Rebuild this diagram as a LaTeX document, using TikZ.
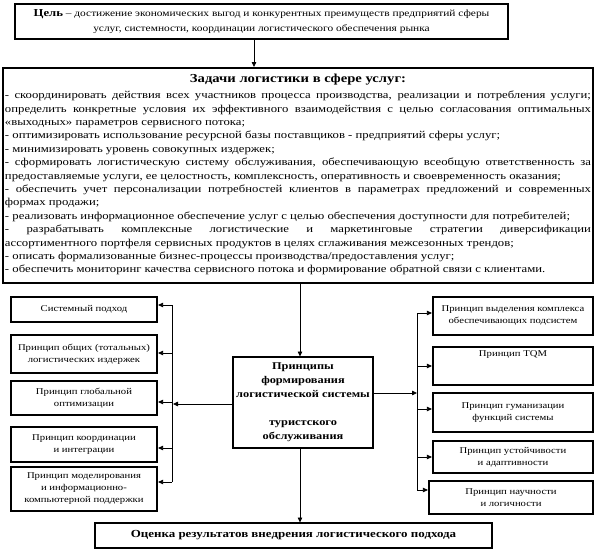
\documentclass[tikz,border=0pt]{standalone}
\usepackage{fontspec}
\setmainfont{Liberation Serif}[FakeStretch=1.2]
\usetikzlibrary{arrows.meta}
\begin{document}
\begin{tikzpicture}[x=1pt,y=-1pt,
  bigbox/.style={draw, line width=2.6pt, inner sep=0pt, align=center},
  sbox/.style={draw, line width=2.2pt, inner sep=0pt, align=center, font=\fontsize{8.9}{12}\selectfont},
  conn/.style={line width=0.8pt},
  arr/.style={line width=0.8pt, -{Triangle[length=5pt,width=4.5pt]}}]
\useasboundingbox (0,0) rectangle (598,557);
% goal
\node[bigbox, minimum width=493, minimum height=35, font=\fontsize{9.5}{15}\selectfont] (goal) at (261.5,21.5)
 {{\bfseries\fontsize{10.6}{15}\selectfont Цель} -- достижение экономических выгод и конкурентных преимуществ предприятий сферы\\
 услуг, системности, координации логистического обеспечения рынка};
% tasks
\node[bigbox, minimum width=590, minimum height=215] (tasks) at (298,175.5) {};
\node[font=\bfseries\fontsize{12.2}{14}\selectfont, inner sep=0pt] (ttl) at (298,80) {Задачи логистики в сфере услуг:};
\node[anchor=north, inner sep=0pt, text width=586, align=justify, font=\fontsize{10.6}{13.4}\selectfont] (tlist) at (298,91)
{- скоординировать действия всех участников процесса производства, реализации и потребления услуги;\linebreak
определить конкретные условия их эффективного взаимодействия с целью согласования оптимальных\linebreak
«выходных» параметров сервисного потока;\par
- оптимизировать использование ресурсной базы поставщиков - предприятий сферы услуг;\par
- минимизировать уровень совокупных издержек;\par
- сформировать логистическую систему обслуживания, обеспечивающую всеобщую ответственность за\linebreak
предоставляемые услуги, ее целостность, комплексность, оперативность и своевременность оказания;\par
- обеспечить учет персонализации потребностей клиентов в параметрах предложений и современных\linebreak
формах продажи;\par
- реализовать информационное обеспечение услуг с целью обеспечения доступности для потребителей;\par
- разрабатывать комплексные логистические и маркетинговые стратегии диверсификации\linebreak
ассортиментного портфеля сервисных продуктов в целях сглаживания межсезонных трендов;\par
- описать формализованные бизнес-процессы производства/предоставления услуг;\par
- обеспечить мониторинг качества сервисного потока и формирование обратной связи с клиентами.};
% center
\node[bigbox, line width=2.4pt, minimum width=140, minimum height=91, font=\bfseries\fontsize{10.3}{14}\selectfont] (center) at (303,402.5)
 {Принципы\\формирования\\логистической системы\\[14pt]туристского\\обслуживания};
% results
\node[bigbox, line width=2.4pt, minimum width=397, minimum height=25, font=\bfseries\fontsize{10.8}{12}\selectfont] (res) at (293.5,535.5)
 {Оценка результатов внедрения логистического подхода};
% left boxes
\node[sbox, minimum width=146, minimum height=25] (l1) at (84,309.5) {Системный подход};
\node[sbox, minimum width=146, minimum height=38] (l2) at (84,354) {Принцип общих (тотальных)\\логистических издержек};
\node[sbox, minimum width=146, minimum height=34] (l3) at (84,398) {Принцип глобальной\\оптимизации};
\node[sbox, minimum width=146, minimum height=35] (l4) at (84,444.5) {Принцип координации\\и интеграции};
\node[sbox, minimum width=146, minimum height=44] (l5) at (84,489) {Принцип моделирования\\и информационно-\\компьютерной поддержки};
% right boxes
\node[sbox, minimum width=160, minimum height=38] (r1) at (513,316) {Принцип выделения комплекса\\обеспечивающих подсистем};
\node[sbox, minimum width=160, minimum height=38] (r2) at (513,366) {Принцип TQM\\[12pt]};
\node[sbox, minimum width=160, minimum height=39] (r3) at (513,412.5) {Принцип гуманизации\\функций системы};
\node[sbox, minimum width=160, minimum height=32] (r4) at (513,457) {Принцип устойчивости\\и адаптивности};
\node[sbox, minimum width=164, minimum height=33] (r5) at (511,497.5) {Принцип научности\\и логичности};
% connectors top
\coordinate (g1) at (254,39);
\draw[arr] (g1) -- (254,67);
\coordinate (t1) at (300,283);
\draw[arr] (t1) -- (300,356.5);
\draw[arr] (300,448) -- (300,522.5);
% left bus
\coordinate (lbT) at (172,305);
\coordinate (lbB) at (172,482);
\draw[conn] (lbT) -- (lbB);
\draw[arr] (lbT) -- (l1.east |- lbT);
\draw[arr] (172,353) -- (l2.east |- 0,353);
\draw[arr] (172,402) -- (l3.east |- 0,402);
\draw[arr] (172,448) -- (l4.east |- 0,448);
\draw[arr] (lbB) -- (l5.east |- lbB);
\draw[arr] (center.west |- 0,404) -- (173,404);
% right bus
\coordinate (rbT) at (417,313);
\coordinate (rbB) at (417,490);
\draw[conn] (rbT) -- (rbB);
\draw[arr] (rbT) -- (r1.west |- rbT);
\draw[arr] (417,366) -- (r2.west |- 0,366);
\draw[arr] (417,409) -- (r3.west |- 0,409);
\draw[arr] (417,457) -- (r4.west |- 0,457);
\draw[arr] (rbB) -- (r5.west |- rbB);
\draw[arr] (center.east |- 0,393) -- (417,393);
\end{tikzpicture}
\end{document}
